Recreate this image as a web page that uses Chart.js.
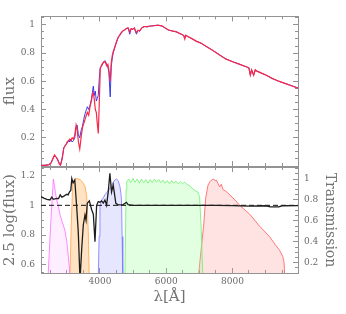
<!DOCTYPE html>
<html><head><meta charset="utf-8">
<script src="https://cdn.jsdelivr.net/npm/chart.js@4.4.0/dist/chart.umd.min.js"></script>
<style>
html,body{margin:0;padding:0;background:#fff;}
#wrap{position:relative;width:346px;height:314px;}
canvas{position:absolute;left:0;top:0;}
</style></head><body>
<div id="wrap"><canvas id="c1" width="346" height="314"></canvas><canvas id="c2" width="346" height="314"></canvas></div>
<script>
// ---- data ----
const specWave = [2220,2350,2450,2520,2580,2630,2680,2720,2770,2810,2860,2910,2960,3010,3050,3090,3120,3160,3200,3240,3280,3310,3350,3390,3430,3470,3510,3550,3590,3620,3660,3700,3740,3770,3800,3830,3860,3890,3920,3950,3980,4010,4060,4110,4160,4200,4240,4270,4310,4340,4370,4400,4450,4500,4550,4600,4650,4700,4750,4800,4850,4900,4940,4980,5040,5100,5150,5200,5260,5320,5360,5420,5500,5600,5680,5760,5840,5900,5960,6060,6200,6300,6400,6480,6530,6560,6590,6650,6750,6900,7050,7200,7400,7600,7800,8000,8200,8450,8500,8540,8580,8640,8690,8720,9000,9200,9400,9600,9800,9980];
const fluxBlue = [0.004,0.006,0.01,0.02,0.05,0.075,0.065,0.05,0.02,0.01,0.06,0.13,0.15,0.16,0.185,0.17,0.19,0.17,0.18,0.2,0.27,0.29,0.22,0.2,0.25,0.28,0.33,0.37,0.4,0.42,0.4,0.43,0.47,0.52,0.565,0.5,0.53,0.46,0.48,0.5,0.62,0.7,0.71,0.74,0.745,0.72,0.7,0.66,0.49,0.7,0.76,0.8,0.84,0.878,0.91,0.925,0.945,0.955,0.967,0.972,0.979,0.934,0.975,0.97,0.975,0.934,0.96,0.955,0.979,0.985,0.99,0.985,0.99,0.994,0.995,0.998,0.993,0.988,0.979,0.963,0.956,0.95,0.94,0.93,0.925,0.905,0.925,0.918,0.905,0.886,0.87,0.848,0.82,0.79,0.758,0.74,0.723,0.70,0.695,0.645,0.68,0.645,0.68,0.675,0.645,0.62,0.6,0.585,0.568,0.553];
const fluxRed = [0.004,0.005,0.008,0.02,0.055,0.078,0.06,0.045,0.015,0.005,0.05,0.13,0.145,0.17,0.175,0.19,0.18,0.2,0.19,0.22,0.29,0.26,0.17,0.12,0.2,0.27,0.3,0.33,0.36,0.38,0.36,0.42,0.46,0.5,0.52,0.47,0.4,0.38,0.3,0.23,0.45,0.69,0.72,0.735,0.74,0.71,0.72,0.68,0.6,0.73,0.78,0.81,0.845,0.88,0.912,0.93,0.948,0.958,0.965,0.975,0.98,0.95,0.972,0.968,0.978,0.945,0.962,0.958,0.977,0.987,0.988,0.987,0.992,0.992,0.997,0.996,0.994,0.99,0.98,0.965,0.955,0.952,0.94,0.932,0.924,0.9,0.926,0.917,0.906,0.885,0.871,0.849,0.82,0.789,0.759,0.739,0.722,0.70,0.693,0.643,0.682,0.643,0.682,0.674,0.646,0.621,0.601,0.584,0.567,0.552];

const ratioWave = [2220,2320,2400,2490,2545,2590,2700,2750,2800,2850,2900,3000,3040,3080,3120,3150,3190,3240,3300,3345,3398,3450,3497,3548,3580,3617,3680,3750,3800,3850,3900,3950,4000,4050,4100,4150,4200,4250,4300,4350,4400,4480,4550,4700,4800,4850,5000,6000,7500,8000,8500,9000,9150,9400,9500,9980];
const ratioVal = [1.058,1.047,1.04,1.036,1.055,1.04,1.047,1.045,1.07,1.055,1.06,1.074,1.07,1.09,1.1,1.18,1.15,1.17,0.98,0.823,0.5,0.71,0.868,0.935,0.9,1.013,1.03,0.97,0.94,0.756,1.0,1.025,1.02,1.03,1.015,1.035,1.0,1.09,1.215,1.09,1.136,1.013,1.003,1.005,1.02,1.005,1.0,1.0,1.0,0.998,0.995,0.997,0.99,0.99,0.997,0.998];
const unityWave = [2220, 9980];
const unityVal = [1, 1];

const filtMagWave = [2430,2510,2593,2620,2660,2696,2744,2795,2850,2895,2946,2997,3045,3075,3100];
const filtMagT    = [0.05,0.55,1.0,0.95,0.86,0.8,0.74,0.66,0.6,0.56,0.5,0.41,0.26,0.16,0.0];
const filtOrgWave = [3090,3127,3178,3217,3260,3298,3350,3398,3450,3497,3548,3599,3623,3648,3680];
const filtOrgT    = [0.0,0.5,0.97,0.99,1.0,1.005,1.0,0.995,0.98,0.96,0.93,0.84,0.7,0.5,0.0];
const filtBluWave = [3945,3975,4000,4050,4100,4150,4202,4250,4301,4350,4401,4450,4503,4551,4602,4630,4651,4670,4690];
const filtBluT    = [0.0,0.45,0.74,0.8,0.82,0.85,0.87,0.89,0.91,0.94,0.97,0.99,1.0,0.985,0.93,0.87,0.8,0.45,0.0];
const filtGrnWave = [4753,4790,4810,4870,4930,4995,5060,5125,5190,5255,5320,5385,5450,5515,5580,5645,5710,5775,5840,5905,5970,6035,6100,6165,6230,6295,6360,6425,6490,6560,6620,6710,6810,6900,6960,7010,7060,7110];
const filtGrnT    = [0.05,0.9,0.975,1.0,0.965,1.005,0.97,1.0,0.96,1.0,0.965,0.995,0.96,0.995,0.965,1.0,0.97,0.995,0.965,0.99,0.96,0.985,0.955,0.985,0.96,0.98,0.955,0.975,0.955,0.97,0.95,0.935,0.905,0.885,0.875,0.83,0.5,0.05];
const filtRedWave = [6950,7063,7132,7193,7262,7320,7364,7434,7470,7515,7560,7614,7665,7714,7816,7900,8015,8217,8518,8819,9120,9300,9422,9521,9560,9590];
const filtRedT    = [0.0,0.35,0.56,0.82,0.94,0.975,0.99,1.0,0.985,0.99,0.96,0.925,0.95,0.9,0.88,0.855,0.82,0.75,0.665,0.55,0.45,0.37,0.32,0.26,0.2,0.0];

const xMajorTicks = [4000, 6000, 8000];
const xMajorLabels = ['4000', '6000', '8000'];
const xMinorTicks = [2500,3000,3500,4000,4500,5000,5500,6000,6500,7000,7500,8000,8500,9000,9500];
const fluxMajorTicks = [0.2, 0.4, 0.6, 0.8, 1];
const fluxMajorLabels = ['0.2', '0.4', '0.6', '0.8', '1'];
const fluxMinorTicks = [0.05,0.1,0.15,0.2,0.25,0.3,0.35,0.4,0.45,0.5,0.55,0.6,0.65,0.7,0.75,0.8,0.85,0.9,0.95,1,1.05];
const logMajorTicks = [0.6, 0.8, 1, 1.2];
const logMajorLabels = ['0.6', '0.8', '1', '1.2'];
const logMinorTicks = [0.55,0.6,0.65,0.7,0.75,0.8,0.85,0.9,0.95,1,1.05,1.1,1.15,1.2,1.25];
const transMajorTicks = [0.2, 0.4, 0.6, 0.8, 1];
const transMajorLabels = ['0.2', '0.4', '0.6', '0.8', '1'];
const transMinorTicks = [0.15,0.2,0.25,0.3,0.35,0.4,0.45,0.5,0.55,0.6,0.65,0.7,0.75,0.8,0.85,0.9,0.95,1,1.05,1.1];

const X_RANGE = [2220, 9980];
const FLUX_RANGE = [0, 1.06];
const LOG_RANGE = [0.546, 1.257];
const TRANS_RANGE = [0.102, 1.115];

// ---- style ----
const SERIF = "'DejaVu Serif', serif";
const FRAME = '#939393';
const TICKTXT = '#6a6a6a';
const TITLETXT = '#737373';

const pts = (xs, ys) => xs.map((x, i) => ({ x: x, y: ys[i] }));

function axis(o) {
  const horiz = o.position === 'top' || o.position === 'bottom';
  return {
    type: 'linear', axis: horiz ? 'x' : 'y', position: o.position,
    min: o.range[0], max: o.range[1], weight: o.weight,
    afterFit: s => { if (horiz) s.height = o.size; else s.width = o.size; },
    afterBuildTicks: s => { s.ticks = o.values.map(v => ({ value: v })); },
    grid: { drawOnChartArea: false, drawTicks: true, tickLength: -o.len, color: FRAME, lineWidth: 1, tickWidth: 1 },
    border: { display: !!o.border, color: FRAME, width: 1 },
    ticks: { display: !!o.labels, autoSkip: false, maxRotation: 0, minRotation: 0, padding: o.pad || 0,
      color: TICKTXT, font: { family: SERIF, size: 9 },
      callback: (v, i) => (o.labels ? o.labels[i] : '') },
    title: o.title ? { display: true, text: o.title, color: TITLETXT, font: { family: SERIF, size: o.tsize }, padding: o.tpad } : { display: false }
  };
}

function frame(cfg) {
  return {
    x:   axis({ position: 'bottom', range: X_RANGE, values: xMajorTicks, labels: cfg.xLabels, pad: 8, len: 5, border: true, size: cfg.bottom, weight: 10, title: cfg.xTitle, tsize: 15, tpad: { top: 0, bottom: 7.5 } }),
    xm:  axis({ position: 'bottom', range: X_RANGE, values: xMinorTicks, len: 3, size: 0, weight: 0 }),
    xt:  axis({ position: 'top', range: X_RANGE, values: xMajorTicks, len: 5, border: true, size: cfg.top, weight: 10 }),
    xtm: axis({ position: 'top', range: X_RANGE, values: xMinorTicks, len: 3, size: 0, weight: 0 }),
    y:   axis({ position: 'left', range: cfg.yRange, values: cfg.yMajor, labels: cfg.yLabels, pad: 11, len: 5, border: true, size: 41, weight: 10, title: cfg.yTitle, tsize: 15, tpad: { top: 1.5, bottom: 0 } }),
    ym:  axis({ position: 'left', range: cfg.yRange, values: cfg.yMinor, len: 3, size: 0, weight: 0 }),
    yr:  axis({ position: 'right', range: cfg.rRange, values: cfg.rMajor, labels: cfg.rLabels, pad: 11, len: 5, border: true, size: 48, weight: 10, title: cfg.rTitle, tsize: 14, tpad: { top: 8.4, bottom: 0 } }),
    yrm: axis({ position: 'right', range: cfg.rRange, values: cfg.rMinor, len: 3, size: 0, weight: 0 })
  };
}

const baseOpts = {
  responsive: false, animation: false, events: [],
  layout: { padding: 0 },
  plugins: { legend: { display: false }, tooltip: { enabled: false } },
  elements: { point: { radius: 0 }, line: { tension: 0 } }
};

new Chart(document.getElementById('c1'), {
  type: 'line',
  data: { datasets: [
    { data: pts(specWave, fluxRed), borderColor: 'rgb(250,40,70)', borderWidth: 1.2, xAxisID: 'x', yAxisID: 'y' },
    { data: pts(specWave, fluxBlue), borderColor: 'rgb(40,40,235)', borderWidth: 0.9, xAxisID: 'x', yAxisID: 'y' }
  ]},
  options: Object.assign({}, baseOpts, { scales: frame({
    top: 8, bottom: 148, yRange: FLUX_RANGE, yMajor: fluxMajorTicks, yMinor: fluxMinorTicks, yLabels: fluxMajorLabels, yTitle: 'flux',
    rRange: FLUX_RANGE, rMajor: fluxMajorTicks, rMinor: fluxMinorTicks
  }) })
});

function filt(w, t, line, fillc) {
  return { data: pts(w, t), borderColor: line, backgroundColor: fillc, borderWidth: 1, fill: 'start', xAxisID: 'x', yAxisID: 'yr' };
}

new Chart(document.getElementById('c2'), {
  type: 'line',
  data: { datasets: [
    { data: pts(ratioWave, ratioVal), borderColor: '#1e1e1e', borderWidth: 1.3, xAxisID: 'x', yAxisID: 'y' },
    { data: pts(unityWave, unityVal), borderColor: '#111', borderWidth: 1, borderDash: [5, 3], xAxisID: 'x', yAxisID: 'y' },
    filt(filtMagWave, filtMagT, 'rgba(255,100,255,0.75)', 'rgba(255,140,255,0.15)'),
    filt(filtOrgWave, filtOrgT, 'rgba(255,165,70,0.8)', 'rgba(255,175,80,0.35)'),
    filt(filtBluWave, filtBluT, 'rgba(120,120,255,0.8)', 'rgba(140,140,255,0.22)'),
    filt(filtGrnWave, filtGrnT, 'rgba(120,240,120,0.85)', 'rgba(140,255,140,0.25)'),
    filt(filtRedWave, filtRedT, 'rgba(255,100,100,0.85)', 'rgba(255,140,140,0.25)')
  ]},
  options: Object.assign({}, baseOpts, { scales: frame({
    top: 167, bottom: 41, xLabels: xMajorLabels, xTitle: 'λ[Å]',
    yRange: LOG_RANGE, yMajor: logMajorTicks, yMinor: logMinorTicks, yLabels: logMajorLabels, yTitle: '2.5 log(flux)',
    rRange: TRANS_RANGE, rMajor: transMajorTicks, rMinor: transMinorTicks, rLabels: transMajorLabels, rTitle: 'Transmission'
  }) })
});
</script>
</body></html>
